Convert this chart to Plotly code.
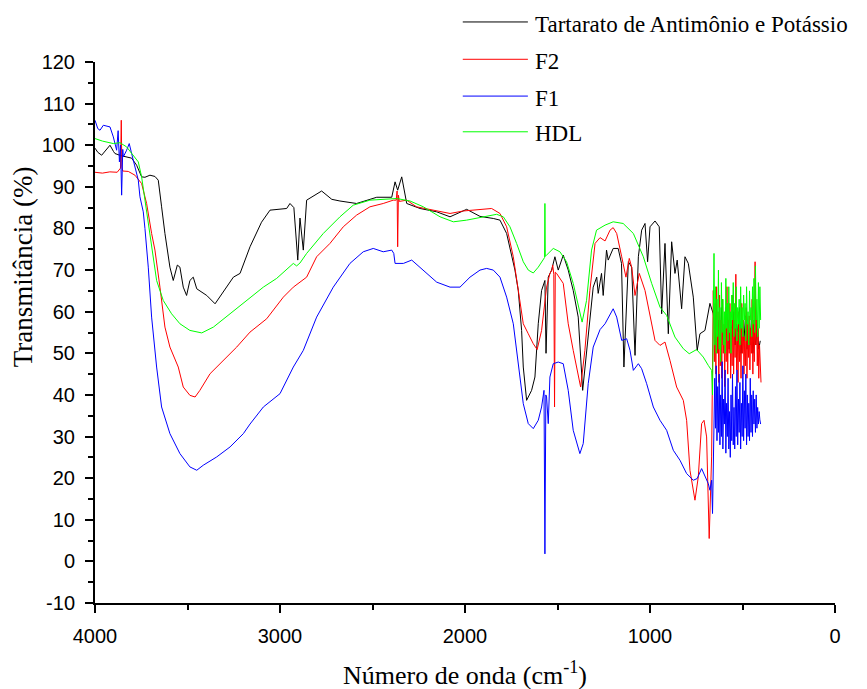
import plotly.graph_objects as go

# ---------------- data (wavenumber cm-1, transmittance %) ----------------
tart_x = [4000, 3985, 3964, 3940, 3919, 3900, 3892, 3860, 3829, 3802, 3775, 3748, 3730, 3703, 3676, 3658,
          3640, 3622, 3595, 3577, 3555, 3541, 3523, 3505, 3487, 3469, 3450, 3423, 3396, 3351, 3306, 3252,
          3216, 3162, 3100, 3054, 2964, 2946, 2925, 2904, 2892, 2874, 2856, 2775, 2720, 2676, 2586, 2477,
          2396, 2378, 2364, 2342, 2315, 2243, 2153, 2081, 1991, 1919, 1847, 1811, 1775, 1748, 1730, 1712,
          1694, 1685, 1667, 1640, 1622, 1604, 1586, 1568, 1562, 1550, 1532, 1514, 1496, 1469, 1442, 1415,
          1388, 1364, 1346, 1325, 1307, 1288, 1280, 1262, 1253, 1235, 1226, 1199, 1172, 1154, 1141, 1117,
          1099, 1081, 1063, 1045, 1027, 1013, 1000, 973, 950, 937, 919, 901, 883, 865, 853, 829,
          811, 793, 766, 745, 730, 703, 676, 658, 650, 643, 636, 628, 620, 612, 604, 596,
          588, 580, 572, 564, 556, 548, 540, 532, 524, 516, 508, 500, 492, 484, 476, 468,
          460, 452, 444, 436, 428, 420, 412, 404]
tart_y = [99.3, 98.3, 97.6, 98.8, 100.0, 98.5, 98.0, 97.5, 97.2, 96.9, 95.2, 92.4, 92.3, 92.8, 92.5, 91.6,
          85.2, 78.8, 70.7, 67.5, 71.2, 70.7, 65.9, 63.9, 67.5, 68.3, 65.5, 64.7, 63.9, 61.9, 64.7, 68.3,
          69.2, 75.6, 81.5, 84.4, 84.8, 86.0, 85.0, 72.4, 82.5, 74.8, 86.8, 89.0, 87.0, 86.6, 86.0, 87.5,
          87.5, 91.2, 89.2, 92.4, 86.0, 84.8, 84.0, 82.8, 84.6, 82.9, 82.4, 82.0, 78.8, 73.2, 70.0, 65.1,
          55.5, 46.7, 38.7, 41.1, 44.3, 57.1, 65.1, 67.5, 50.0, 68.3, 70.0, 73.2, 70.0, 73.6, 70.0, 65.1,
          58.7, 41.1, 49.1, 57.1, 65.9, 68.3, 64.4, 69.2, 63.9, 74.8, 72.4, 75.2, 75.2, 71.6, 46.7, 72.0,
          70.7, 49.5, 73.2, 79.6, 81.2, 72.0, 80.4, 81.8, 80.4, 59.5, 76.4, 54.7, 76.8, 69.2, 72.4, 60.7,
          73.2, 71.6, 63.5, 50.7, 54.7, 55.5, 62.0, 59.5, 56, 60, 53, 58, 54, 61, 52, 57,
          55, 60, 51, 58, 54, 60, 52, 57, 55, 61, 50, 56, 53, 59, 51, 55,
          52, 58, 50, 55, 52, 57, 51, 53]

f2_x = [4000, 3960, 3920, 3880, 3862, 3858, 3855, 3850, 3820, 3784, 3748, 3721, 3694, 3676, 3649, 3622,
        3595, 3550, 3523, 3487, 3459, 3433, 3378, 3307, 3234, 3162, 3072, 2982, 2928, 2856, 2802, 2730,
        2658, 2586, 2514, 2442, 2388, 2372, 2367, 2364, 2360, 2355, 2315, 2262, 2171, 2081, 2009, 1901,
        1856, 1811, 1775, 1739, 1712, 1685, 1658, 1631, 1610, 1586, 1559, 1541, 1530, 1526, 1520, 1516,
        1512, 1505, 1469, 1442, 1415, 1388, 1375, 1352, 1325, 1297, 1270, 1243, 1216, 1199, 1180, 1153,
        1130, 1112, 1099, 1081, 1058, 1027, 1000, 973, 946, 919, 892, 856, 820, 802, 784, 757,
        739, 721, 708, 694, 680, 667, 658, 652, 648, 644, 640, 636, 632, 628, 624, 620,
        616, 612, 608, 604, 600, 596, 592, 588, 584, 580, 576, 572, 568, 564, 560, 556,
        552, 548, 544, 540, 536, 532, 528, 524, 520, 516, 512, 508, 504, 500, 496, 492,
        488, 484, 480, 476, 472, 468, 464, 460, 456, 452, 448, 444, 440, 436, 432, 428,
        424, 420, 416, 412, 408, 404, 400]
f2_y = [93.5, 93.3, 93.6, 93.5, 94.5, 106.0, 95.0, 93.8, 93.7, 92.8, 90.8, 86.0, 78.8, 74.8, 65.9, 56.3,
        51.5, 46.7, 41.9, 39.9, 39.5, 41.1, 45.1, 48.3, 51.5, 55.1, 58.3, 63.5, 65.9, 68.3, 73.2, 76.4,
        80.4, 83.2, 85.2, 86.0, 86.8, 86.8, 89.0, 75.6, 88.0, 86.5, 86.8, 85.2, 84.4, 83.6, 84.2, 84.5,
        84.8, 83.6, 80.4, 73.2, 65.1, 57.1, 54.7, 52.3, 50.9, 55.5, 65.9, 69.2, 70.0, 71.2, 69.0, 37.1,
        69.5, 69.2, 66.8, 57.1, 50.7, 44.3, 41.9, 50.7, 65.1, 76.4, 77.8, 77.0, 79.6, 80.2, 78.8, 73.2,
        68.3, 72.8, 70.7, 63.9, 69.2, 65.1, 58.7, 53.1, 51.9, 52.7, 48.3, 41.9, 38.7, 33.9, 21.9, 14.7,
        20.3, 33.1, 33.9, 29.9, 5.5, 25.1, 65.1, 48, 62, 45, 66, 50, 60, 43, 64, 47,
        58, 44, 63, 50, 57, 42, 61, 48, 66, 45, 58, 50, 62, 44, 56, 47,
        64, 45, 58, 49, 69, 46, 55, 43, 60, 48, 56, 44, 62, 50, 58, 45,
        54, 47, 61, 44, 57, 49, 59, 46, 56, 50, 63, 45, 58, 48, 72, 52,
        60, 47, 56, 44, 52, 45, 43]

f1_x = [4000, 3985, 3973, 3955, 3919, 3901, 3883, 3875, 3868, 3862, 3856, 3850, 3847, 3829, 3815, 3802,
        3784, 3766, 3757, 3739, 3730, 3712, 3694, 3667, 3640, 3595, 3541, 3487, 3450, 3415, 3342, 3270,
        3198, 3162, 3090, 3000, 2928, 2874, 2802, 2712, 2622, 2550, 2496, 2442, 2396, 2385, 2378, 2333,
        2288, 2225, 2153, 2081, 2027, 1973, 1919, 1883, 1847, 1811, 1775, 1739, 1721, 1712, 1703, 1694,
        1685, 1658, 1631, 1604, 1586, 1573, 1568, 1563, 1559, 1550, 1541, 1523, 1496, 1469, 1442, 1415,
        1379, 1361, 1334, 1307, 1270, 1243, 1199, 1180, 1153, 1126, 1108, 1090, 1063, 1045, 1018, 982,
        946, 910, 874, 838, 802, 766, 745, 721, 703, 685, 676, 667, 662, 658, 654, 650,
        646, 642, 638, 634, 630, 626, 622, 618, 614, 610, 606, 602, 598, 594, 590, 586,
        582, 578, 574, 570, 566, 562, 558, 554, 550, 546, 542, 538, 534, 530, 526, 522,
        518, 514, 510, 506, 502, 498, 494, 490, 486, 482, 478, 474, 470, 466, 462, 458,
        454, 450, 446, 442, 438, 434, 430, 426, 422, 418, 414, 410, 406, 402]
f1_y = [106.0, 104.0, 103.6, 104.8, 104.4, 102.0, 98.8, 103.5, 96.0, 100.0, 88.0, 99.0, 97.2, 98.8, 100.4, 98.0,
        94.8, 91.6, 87.6, 84.0, 80.0, 70.7, 58.7, 46.7, 37.1, 30.7, 25.9, 22.7, 21.9, 23.1, 25.1, 27.5,
        30.7, 33.0, 37.1, 40.3, 46.7, 50.7, 58.7, 65.9, 71.6, 74.4, 75.2, 74.4, 74.8, 74.0, 71.6, 71.6,
        72.4, 70.0, 67.1, 65.9, 65.9, 68.3, 70.0, 70.4, 70.0, 68.3, 63.5, 57.1, 50.7, 48.5, 44.3, 41.0,
        37.9, 33.1, 31.9, 33.9, 37.1, 41.1, 1.8, 40.0, 39.5, 33.1, 44.3, 47.5, 47.9, 47.5, 41.1, 31.5,
        25.9, 28.3, 42.7, 51.5, 55.7, 57.1, 60.7, 58.7, 53.1, 53.5, 50.7, 45.9, 47.5, 46.3, 42.7, 37.1,
        33.9, 31.5, 26.7, 24.3, 21.1, 19.5, 19.9, 22.3, 20.3, 18.7, 17.1, 19.5, 11.5, 25.0, 37.9, 44,
        32, 47, 29, 42, 31, 45, 28, 40, 30, 48, 27, 39, 33, 46, 26, 38,
        30, 44, 27, 36, 25, 40, 29, 45, 28, 37, 27, 42, 30, 46, 28, 39,
        31, 43, 27, 38, 30, 47, 29, 41, 32, 45, 28, 40, 30, 38, 29, 44,
        31, 40, 30, 41, 33, 39, 31, 40, 32, 37, 33, 36, 34, 33]

hdl_x = [4000, 3960, 3901, 3865, 3829, 3793, 3766, 3748, 3730, 3712, 3694, 3667, 3631, 3586, 3541, 3487,
         3423, 3360, 3270, 3180, 3090, 3018, 2928, 2910, 2892, 2856, 2766, 2676, 2604, 2514, 2442, 2369,
         2297, 2225, 2135, 2063, 1991, 1901, 1829, 1793, 1757, 1721, 1685, 1658, 1631, 1604, 1577, 1570,
         1568, 1566, 1559, 1523, 1487, 1451, 1415, 1388, 1367, 1343, 1316, 1289, 1243, 1199, 1145, 1090,
         1036, 991, 946, 910, 865, 820, 788, 748, 712, 685, 667, 662, 658, 654, 650, 646,
         642, 638, 634, 630, 626, 622, 618, 614, 610, 606, 602, 598, 594, 590, 586, 582,
         578, 574, 570, 566, 562, 558, 554, 550, 546, 542, 538, 534, 530, 526, 522, 518,
         514, 510, 506, 502, 498, 494, 490, 486, 482, 478, 474, 470, 466, 462, 458, 454,
         450, 446, 442, 438, 434, 430, 426, 422, 418, 414, 410, 406, 402]
hdl_y = [101.6, 101.0, 100.4, 100.6, 99.6, 97.6, 96.0, 92.4, 86.8, 80.4, 74.8, 67.5, 62.7, 59.5, 57.1, 55.5,
         54.9, 56.3, 59.5, 62.7, 65.9, 68.0, 71.6, 71.0, 71.7, 74.0, 78.8, 82.8, 85.6, 86.8, 87.0, 87.2,
         86.6, 85.2, 82.8, 81.6, 82.0, 82.8, 83.4, 82.8, 80.4, 76.4, 72.0, 70.0, 69.3, 70.7, 72.4, 73.0,
         86.0, 73.3, 73.6, 75.2, 74.4, 72.0, 66.8, 61.1, 57.5, 62.7, 74.8, 79.6, 80.8, 81.6, 81.2, 78.8,
         73.2, 66.8, 61.1, 59.1, 53.9, 51.1, 49.9, 50.9, 49.1, 47.1, 45.9, 40.0, 58, 74, 52, 66,
         50, 63, 54, 70, 51, 61, 48, 67, 55, 63, 52, 60, 50, 68, 56, 62,
         53, 66, 55, 60, 50, 64, 58, 67, 54, 62, 56, 66, 53, 61, 57, 63,
         52, 66, 56, 61, 54, 64, 58, 62, 53, 66, 57, 60, 52, 65, 58, 61,
         54, 66, 57, 68, 55, 71, 58, 63, 54, 67, 56, 66, 58]

x_ticks = [4000, 3000, 2000, 1000, 0]
y_ticks = list(range(-10, 121, 10))
y_tick_text = [str(v) for v in y_ticks]

series = [
    ("Tartarato de Antimônio e Potássio", tart_x, tart_y, "#000000"),
    ("F2", f2_x, f2_y, "#ff0000"),
    ("F1", f1_x, f1_y, "#0000ff"),
    ("HDL", hdl_x, hdl_y, "#00ff00"),
]

fig = go.Figure()
for name, xs, ys, col in series:
    fig.add_trace(go.Scatter(x=xs, y=ys, mode="lines", name=name,
                             line=dict(color=col, width=1), showlegend=False))

# manual legend (line sample + text), positioned in paper coordinates
leg_y = [1.074, 1.005, 0.937, 0.871]
for (name, _, _, col), ly in zip(series, leg_y):
    fig.add_shape(type="line", xref="paper", yref="paper", x0=0.497, x1=0.585, y0=ly, y1=ly,
                  line=dict(color=col, width=1))
    fig.add_annotation(xref="paper", yref="paper", x=0.592, y=ly - 0.004, text=name, showarrow=False,
                       xanchor="left", yanchor="middle",
                       font=dict(family="Liberation Serif", size=23, color="black"))

fig.add_annotation(xref="paper", yref="paper", x=-0.097, y=0.621, text="Transmitância (%)",
                   textangle=-90, showarrow=False, xanchor="center", yanchor="middle",
                   font=dict(family="Liberation Serif", size=27, color="black"))
fig.add_annotation(xref="paper", yref="paper", x=0.5, y=-0.131, text="Número de onda (cm<sup>-1</sup>)",
                   showarrow=False, xanchor="center", yanchor="middle",
                   font=dict(family="Liberation Serif", size=26, color="black"))

fig.update_layout(
    width=867, height=689,
    margin=dict(l=87, r=40, t=54, b=94, autoexpand=False),
    paper_bgcolor="white", plot_bgcolor="white",
    font=dict(family="Liberation Sans", size=20, color="black"),
)
fig.update_xaxes(range=[4000, 0], tickvals=x_ticks, ticktext=[str(v) for v in x_ticks],
                 showgrid=False, zeroline=False, showline=True, linecolor="black", linewidth=2,
                 ticks="outside", ticklen=8, tickwidth=2, tickcolor="black", ticklabelstandoff=6,
                 minor=dict(tickvals=[3500, 2500, 1500, 500], ticks="outside", ticklen=5, tickwidth=2,
                            tickcolor="black", showgrid=False))
fig.update_yaxes(range=[-10, 120], tickvals=y_ticks, ticktext=y_tick_text,
                 showgrid=False, zeroline=False, showline=True, linecolor="black", linewidth=2,
                 ticks="outside", ticklen=8, tickwidth=2, tickcolor="black", ticklabelstandoff=6,
                 minor=dict(tickvals=list(range(-5, 120, 10)), ticks="outside", ticklen=5, tickwidth=2,
                            tickcolor="black", showgrid=False))

fig.write_html("out.html")
